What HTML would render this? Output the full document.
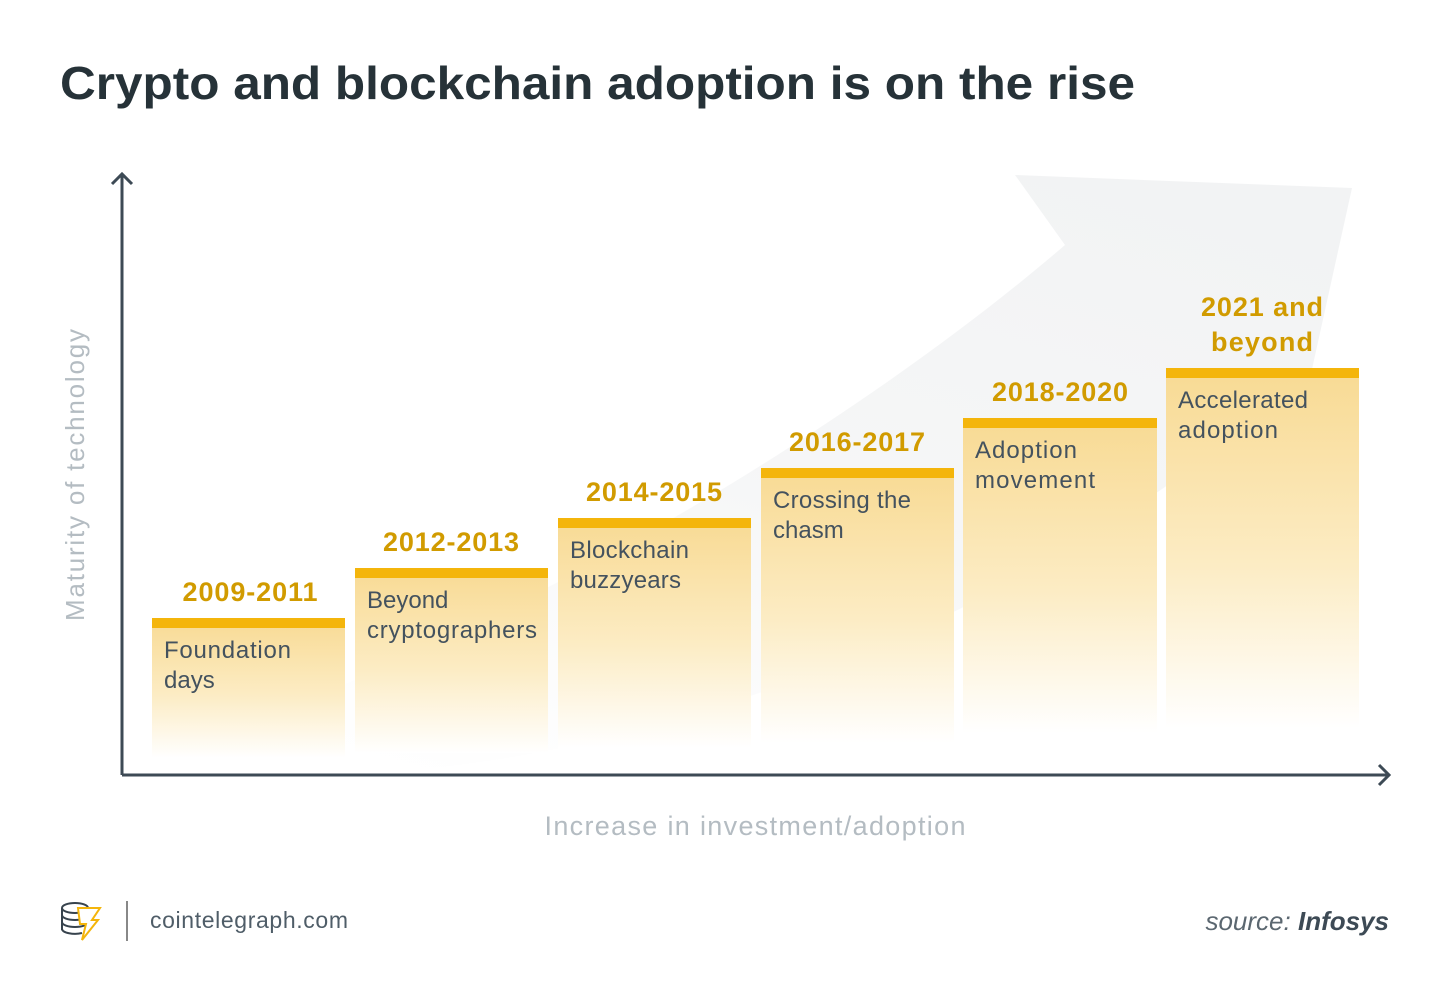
<!DOCTYPE html>
<html><head><meta charset="utf-8"><style>
body{margin:0;width:1450px;height:1001px;background:#fff;overflow:hidden;font-family:"Liberation Sans",sans-serif}
</style></head><body>
<svg width="1450" height="1001" xmlns="http://www.w3.org/2000/svg">
<defs>
<linearGradient id="g" x1="0" y1="0" x2="0" y2="1">
<stop offset="0" stop-color="#f8da93"/>
<stop offset="0.55" stop-color="#fcecc4"/>
<stop offset="1" stop-color="#ffffff"/>
</linearGradient>
<linearGradient id="a" x1="0.2" y1="1" x2="0.8" y2="0">
<stop offset="0" stop-color="#f2f3f4" stop-opacity="0"/>
<stop offset="0.5" stop-color="#f2f3f4" stop-opacity="0.7"/>
<stop offset="1" stop-color="#f2f3f4" stop-opacity="1"/>
</linearGradient>
</defs>
<text x="60" y="99" font-size="46" font-weight="bold" fill="#263238" textLength="1075" lengthAdjust="spacingAndGlyphs">Crypto and blockchain adoption is on the rise</text>
<path d="M150 760 C500 640 850 430 1065 245 L1015 175 L1352 188 L1282 505 L1228 440 C1000 620 700 740 420 770 Z" fill="url(#a)"/>
<g fill="url(#g)">
<rect x="152" y="618" width="193" height="140"/>
<rect x="355" y="568" width="193" height="185"/>
<rect x="558" y="518" width="193" height="230"/>
<rect x="761" y="468" width="193" height="275"/>
<rect x="963" y="418" width="194" height="315"/>
<rect x="1166" y="368" width="193" height="360"/>
</g>
<g fill="#f4b50b">
<rect x="152" y="618" width="193" height="10"/>
<rect x="355" y="568" width="193" height="10"/>
<rect x="558" y="518" width="193" height="10"/>
<rect x="761" y="468" width="193" height="10"/>
<rect x="963" y="418" width="194" height="10"/>
<rect x="1166" y="368" width="193" height="10"/>
</g>
<g font-size="27" font-weight="bold" fill="#d19b00" text-anchor="middle">
<text x="250" y="601" textLength="135">2009-2011</text>
<text x="451" y="551" textLength="136">2012-2013</text>
<text x="654" y="501" textLength="136">2014-2015</text>
<text x="857" y="451" textLength="136">2016-2017</text>
<text x="1060" y="401" textLength="136">2018-2020</text>
<text x="1262" y="316" textLength="122">2021 and</text>
<text x="1262" y="351" textLength="102">beyond</text>
</g>
<g font-size="24" fill="#44525e">
<text x="164" y="658" textLength="127">Foundation</text><text x="164" y="688">days</text>
<text x="367" y="608">Beyond</text><text x="367" y="638" textLength="170">cryptographers</text>
<text x="570" y="558" textLength="119">Blockchain</text><text x="570" y="588" textLength="111">buzzyears</text>
<text x="773" y="508" textLength="138">Crossing the</text><text x="773" y="538">chasm</text>
<text x="975" y="458" textLength="102">Adoption</text><text x="975" y="488" textLength="120">movement</text>
<text x="1178" y="408" textLength="130">Accelerated</text><text x="1178" y="438" textLength="100">adoption</text>
</g>
<g stroke="#3d4a55" stroke-width="3" fill="none">
<path d="M122 775 V174 M112 184 L122 174 L132 184"/>
<path d="M122 775 H1389 M1379 765 L1389 775 L1379 785"/>
</g>
<text transform="translate(84 475) rotate(-90)" font-size="26" fill="#b4bcc2" text-anchor="middle" textLength="292">Maturity of technology</text>
<text x="755" y="835" font-size="27" fill="#b4bcc2" text-anchor="middle" textLength="421">Increase in investment/adoption</text>
<g fill="none" stroke="#37434d" stroke-width="2">
<ellipse cx="75" cy="908" rx="13" ry="5"/>
<path d="M62 908 V930 M62 915 a13 5 0 0 0 26 0 M62 922 a13 5 0 0 0 26 0 M62 929 a13 5 0 0 0 20 4"/>
</g>
<path d="M78 908 H100 L92 920 H98 L82 940 L86 924 H80 Z" fill="#fff" stroke="#f4b50b" stroke-width="2"/>
<rect x="126" y="901" width="2" height="40" fill="#888"/>
<text x="150" y="928" font-size="23" fill="#4f5d68" textLength="198">cointelegraph.com</text>
<text x="1389" y="930" font-size="26" fill="#5b6770" text-anchor="end" font-style="italic">source: <tspan font-weight="bold" fill="#3d4a55">Infosys</tspan></text>
</svg>
</body></html>
